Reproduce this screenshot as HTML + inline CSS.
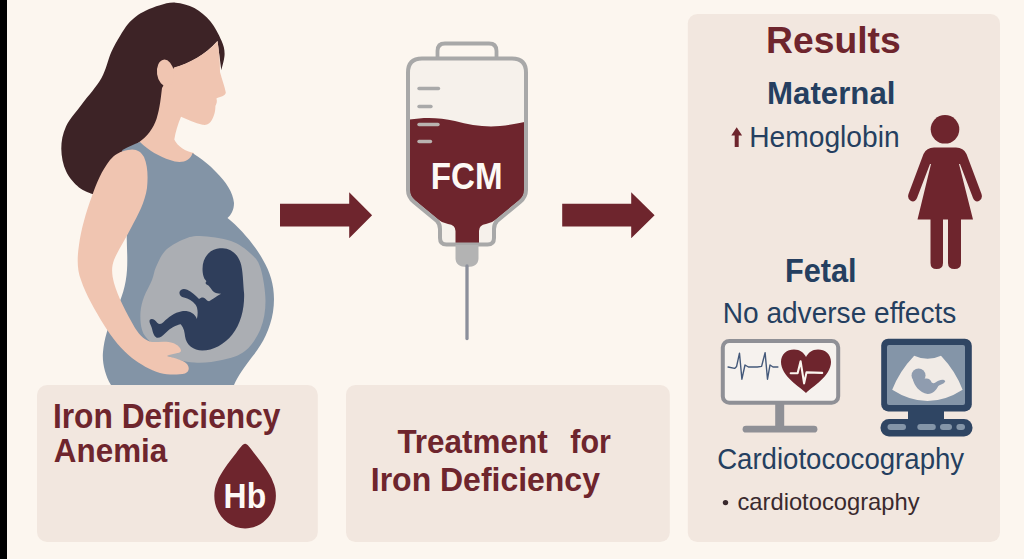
<!DOCTYPE html>
<html>
<head>
<meta charset="utf-8">
<title>FCM in pregnancy</title>
<style>
html,body{margin:0;padding:0;background:#fcf6ef;}
body{width:1024px;height:559px;overflow:hidden;font-family:"Liberation Sans",sans-serif;}
svg{display:block;}
text{font-family:"Liberation Sans",sans-serif;}
.b{font-weight:bold;}
.red{fill:#6e252d;}
.navy{fill:#253f60;}
</style>
</head>
<body>
<svg width="1024" height="559" viewBox="0 0 1024 559">
  <!-- background -->
  <rect x="0" y="0" width="1024" height="559" fill="#fcf6ef"/>
  <rect x="0" y="0" width="7" height="559" fill="#000"/>

  <!-- panels -->
  <rect x="37" y="385" width="280.800" height="157" rx="10" fill="#f2e7df"/>
  <rect x="346" y="385" width="323.800" height="157" rx="9.5" fill="#f2e7df"/>
  <rect x="687.800" y="14" width="312.200" height="528" rx="9.5" fill="#f2e7df"/>

  <!-- ============ WOMAN ============ -->
  <g id="woman">
    <!-- hair back -->
    <path fill="#3d2326" d="M221.3,70.3 C221.9,67.6 224.6,59.0 224.6,54.0 C224.6,49.0 223.7,45.7 221.3,40.3 C219.0,34.9 215.0,26.9 210.5,21.5 C206.0,16.1 200.2,11.1 194.4,8.0 C188.6,4.9 181.3,3.2 175.6,2.7 C169.9,2.2 164.9,3.9 160.0,5.2 C155.1,6.5 150.0,8.6 146.0,10.5 C142.0,12.4 139.0,14.2 136.0,16.5 C133.0,18.8 130.7,20.8 128.0,24.0 C125.3,27.2 122.8,31.3 120.0,36.0 C117.2,40.7 114.3,45.2 111.2,52.2 C108.1,59.2 106.3,69.3 101.5,77.9 C96.7,86.5 88.1,95.7 82.2,103.7 C76.3,111.8 69.6,118.7 66.1,126.2 C62.6,133.7 61.3,141.2 61.3,148.7 C61.3,156.2 63.1,164.9 66.1,171.3 C69.0,177.8 74.4,183.6 79.0,187.4 C83.6,191.2 91.1,193.2 93.5,194.3  C100,180 115,165 130,160 L150,146 L175,125 L180,90 L174,68 C190,63 205,55 217.5,41 Z"/>
    <!-- neck + face -->
    <path fill="#f0c5b1" d="M217.500,41 C219,50 220,60 220,72 C222,80 225,87 225.800,92.600 C225.500,96 220,97 216.400,98.500 C217.500,101 216.500,104 215.400,106 C215.500,112 213.500,118 210.500,122 C208.500,124.500 205.500,125.300 202.500,124.800 C195,123.500 188,119.500 181,116.800 C178,124 175.500,132 174.300,139.600 C177,146 186,152 194,153 L194,166 L160,166 L138,143 C147,137 153.500,128 156.500,119 C160,108 161,96 162,88 L174,67.500 C190,63 205,55 217.500,41 Z"/>
    <!-- ear -->
    <ellipse cx="165.500" cy="73" rx="8.500" ry="13.500" fill="#f0c5b1" transform="rotate(-8 165.500 73)"/>
    <!-- shirt -->
    <path fill="#8394a6" d="M140,142 C148,150 160,157 170,160 C180,164 190,162 192.500,153 C200,158 210,165 216,172 C226,182 233,192 234,203 C234,210 231,215 227.500,218 C240,228 255,245 263,260 C272,275 276,292 273,312 C270,330 262,345 252,357 C245,366 238,376 234,385 L111,385 C105,375 102,362 103,352 C104,340 108,325 115,312 C122,298 126,285 127,270 C128,255 126,240 127,225 C128,205 126,180 122,165 C121,158 121,153 122.500,150 C128,147 134,144 140,142 Z"/>
    <!-- womb -->
    <path id="womb" fill="#abaeb3" d="M200.0,236.0 C191.8,235.8 187.8,237.5 182.0,240.0 C176.2,242.5 169.3,246.5 165.0,251.0 C160.7,255.5 158.2,262.2 156.0,267.0 C153.8,271.8 154.0,275.0 152.0,280.0 C150.0,285.0 145.9,291.7 144.0,297.0 C142.1,302.3 140.9,306.7 140.5,312.0 C140.1,317.3 140.5,324.3 141.8,329.0 C143.1,333.7 144.3,335.6 148.5,340.0 C152.7,344.4 159.4,351.6 167.0,355.4 C174.6,359.1 185.0,361.7 194.2,362.5 C203.4,363.3 213.5,361.9 222.0,360.0 C230.5,358.1 238.6,356.2 245.0,351.0 C251.4,345.8 257.1,337.3 260.5,329.0 C263.9,320.7 265.5,311.2 265.5,301.0 C265.5,290.8 263.0,275.9 260.5,268.0 C258.0,260.1 255.4,258.0 250.5,253.5 C245.6,249.0 239.4,243.9 231.0,241.0 C222.6,238.1 208.2,236.2 200.0,236.0 Z"/>
    <!-- fetus -->
    <path id="fetus" fill="#2f3e5b" transform="translate(140,240) scale(0.21467)" d="M385,38 C420,38 455,65 468,105 C480,140 480,200 485,250 C487,320 470,390 430,440 C395,485 340,515 290,515 C250,515 215,490 210,450 C208,430 205,410 190,392 C170,395 140,410 120,432 C105,448 90,458 78,455 C65,450 60,430 55,410 C50,395 40,382 46,372 C55,362 70,372 80,385 C90,395 100,392 110,382 C130,362 160,338 195,332 C225,328 255,340 265,368 C272,340 268,310 258,300 C245,285 225,272 205,268 C190,266 180,252 185,240 C190,228 205,225 220,232 C240,242 258,258 275,275 C282,268 295,265 303,272 C310,278 315,285 322,285 C335,278 355,262 378,250 C360,250 345,245 337,235 C330,226 325,218 320,213 C312,208 303,204 306,198 C310,193 310,190 305,186 C298,180 294,165 292,150 C288,110 300,75 330,52 C348,40 368,38 385,38 Z"/>
    <!-- arm -->
    <path fill="#f0c5b1" d="M128,150 C135,148 141,151 144,157 C148,166 148,178 147,188 C145,202 138,215 131,228 C125,240 118,250 114,260 C111,268 112,275 114,283 C118,297 126,312 135,328 C140,336 146,341 152,342 C160,342 168,341 173,343 C178,345 181,348 181,351 C180,354 172,353 167,356 C174,358 183,360 187,364 C190,368 189,372 185,373.500 C178,375 168,375 160,373 C150,370 140,364 132,358 C122,350 112,338 104,325 C95,310 86,295 81,280 C77,270 77,258 79,245 C81,230 86,212 92,196 C96,184 102,170 110,160 C115,154 121,151 128,150 Z"/>
  </g>

  <!-- ============ ARROWS ============ -->
  <path class="red" d="M280,203.800 L349.200,203.800 L349.200,192.200 L372.100,215.200 L349.200,238.200 L349.200,226.600 L280,226.600 Z"/>
  <path class="red" d="M562.200,203.800 L631.200,203.800 L631.200,192.200 L654.600,215.200 L631.200,238.200 L631.200,226.600 L562.200,226.600 Z"/>

  <!-- ============ IV BAG ============ -->
  <g id="bag">
    <!-- hanger -->
    <path d="M437.500,58 L437.500,51 Q437.500,43.500 445,43.500 L489,43.500 Q496.500,43.500 496.500,51 L496.500,58" fill="none" stroke="#a8a8a8" stroke-width="3.800"/>
    <!-- body -->
    <path d="M422,58.500 L512,58.500 Q526,58.500 526,72.500 L526,190 Q526,197 520,202 L497,221 Q494,224 494,229 L494,238 Q494,244.500 487.500,244.500 L446.500,244.500 Q440,244.500 440,238 L440,229 Q440,224 437,221 L414,202 Q408,197 408,190 L408,72.500 Q408,58.500 422,58.500 Z" fill="#f6f1eb"/>
    <!-- liquid -->
    <path fill="#6e252d" d="M409.5,119.500 C425,117 440,117.500 455,121 C470,125 485,127.500 500,126 C510,125 518,123.500 524.5,122 L524.5,190 Q524.5,196 519,200.500 L496,219.500 Q492,223 486,224 Q479,225 479,231 L479,246 L455.5,246 L455.5,231 Q455.5,225 448,224 Q442,223 438,219.500 L415,200.500 Q409.5,196 409.5,190 Z"/>
    <!-- ticks -->
    <g stroke="#a9a9a9" stroke-width="3.4" stroke-linecap="round">
      <line x1="419" y1="88.500" x2="438.500" y2="88.500"/>
      <line x1="419" y1="106.500" x2="431" y2="106.500"/>
      <line x1="419" y1="124.500" x2="438" y2="124.500" stroke="#b9b3b0"/>
      <line x1="419" y1="141.500" x2="430.500" y2="141.500" stroke="#b9b3b0"/>
    </g>
    <path id="bagbody" d="M422,58.500 L512,58.500 Q526,58.500 526,72.500 L526,190 Q526,197 520,202 L497,221 Q494,224 494,229 L494,238 Q494,244.500 487.500,244.500 L446.500,244.500 Q440,244.500 440,238 L440,229 Q440,224 437,221 L414,202 Q408,197 408,190 L408,72.500 Q408,58.500 422,58.500 Z" fill="none" stroke="#a8a8a8" stroke-width="4"/>
    <!-- connector -->
    <path d="M455.500,245 L478.500,245 L478.500,258 Q478.500,267 467,267 Q455.500,267 455.500,258 Z" fill="#b3b3b3"/>
    <!-- needle -->
    <line x1="467" y1="266" x2="467" y2="338.500" stroke="#8b8f9b" stroke-width="3.300" stroke-linecap="round"/>
  </g>

  <!-- ============ LEFT PANEL TEXT ============ -->
  <!-- drop -->
  <path class="red" d="M245.100,443.800 C247.500,443.800 250,448 254,452.900 C258,458 262,463 264.800,467.200 C268.500,472.500 271.500,477.500 272.800,481.500 C275,486 275.900,491 275.900,495.800 C275.900,514 262,528.400 245.100,528.400 C228.200,528.400 214.300,514 214.300,495.800 C214.300,491 215.200,486 217.400,481.500 C218.700,477.500 221.700,472.500 225.400,467.200 C228.200,463 232.200,458 236.200,452.900 C240.200,448 242.700,443.800 245.100,443.800 Z"/>

  <!-- ============ MIDDLE PANEL TEXT ============ -->

  <!-- ============ RIGHT PANEL ============ -->
  <!-- up arrow -->
  <path class="red" d="M736.700,127.300 L742.100,135.400 L738.700,135.400 L738.700,147 L734.700,147 L734.700,135.400 L731.300,135.400 Z"/>
  <!-- woman icon -->
  <g class="red">
    <circle cx="945" cy="129.300" r="14.300"/>
    <path d="M934,147.500 L956,147.500 Q963.500,147.500 966.500,154 L981.500,194 Q983,199 979,201 Q975,202.500 973,198 L960,164 L959,164 L973,219.500 L961,219.500 L961,263 Q961,269 954.500,269 Q948,269 948,263 L948,219.500 L943,219.500 L943,263 Q943,269 936.500,269 Q930.500,269 930.500,263 L930.500,219.500 L917.500,219.500 L931,164 L930,164 L917,198 Q915,202.500 911,201 Q907,199 908.500,194 L923.500,154 Q926.500,147.500 934,147.500 Z"/>
  </g>

  <!-- monitor 1 -->
  <g id="mon1">
    <rect x="722.800" y="340.900" width="115.400" height="61.800" rx="6.500" fill="#f6f2ee" stroke="#8f9096" stroke-width="4"/>
    <rect x="775.200" y="404" width="9" height="23" fill="#8f9096"/>
    <rect x="742.600" y="425.800" width="74.800" height="6.800" rx="3.400" fill="#8f9096"/>
    <!-- ecg -->
    <polyline fill="none" stroke="#44597a" stroke-width="1.400" stroke-linejoin="round" stroke-linecap="round" points="728.100,367 734.600,368.400 736.600,366.400 739.500,353.200 741.900,379.200 745,365 748.400,367 757.300,367 761.600,366.400 765.100,352.600 767.500,379.200 770,365 773,367 777.900,367"/>
    <!-- heart -->
    <path class="red" d="M806,393 C800,387 781,376 781,362 C781,354 787,349.500 794,349.500 C800,349.500 804,353 806,357 C808,353 812,349.500 818,349.500 C825,349.500 831,354 831,362 C831,376 812,387 806,393 Z"/>
    <polyline fill="none" stroke="#fcf6ef" stroke-width="2.100" stroke-linejoin="round" stroke-linecap="round" points="790.700,373.300 797.600,373.300 800.600,361.300 804.100,383.400 806.500,372.400 822.200,372.900"/>
  </g>

  <!-- monitor 2 -->
  <g id="mon2">
    <rect x="881.200" y="338.700" width="90.600" height="72.700" rx="7" fill="#2f4563"/>
    <rect x="887" y="345" width="78" height="60" rx="2" fill="#8495a8"/>
    <rect x="908" y="409" width="36" height="13" fill="#2f4563"/>
    <rect x="880.500" y="419" width="92" height="17.500" rx="8.500" fill="#2f4563"/>
    <g fill="#8495a8">
      <rect x="887.500" y="424" width="18.500" height="6" rx="3"/>
      <rect x="917.300" y="424" width="18.500" height="6" rx="3"/>
      <rect x="940" y="424" width="12" height="6" rx="3"/>
      <rect x="956.400" y="424" width="8.600" height="6" rx="3"/>
    </g>
    <!-- ultrasound fan -->
    <path fill="#f1ebe6" d="M914.200,355.700 Q927.600,361.900 941,355.700 Q955.500,371 962.600,389.700 Q927.600,412.300 892.200,389.700 Q899.500,371 914.200,355.700 Z"/>
    <!-- tiny fetus -->
    <g fill="#8f9caf" transform="translate(870,330) scale(0.2057)"><circle cx="236" cy="221" r="34"/><path d="M208,240 C215,270 240,305 280,311 C305,312 322,292 332,272 C347,264 364,260 366,248 C356,237 335,244 320,254 C312,260 303,262 298,252 C294,242 286,234 270,236 Z"/></g>
  </g>
<!--TEXT-->
<text transform="translate(52.88,427.5) scale(0.9261,1)" font-weight="bold" font-size="34.3" fill="#6e252d">Iron Deficiency</text>
<text transform="translate(53.87,461.5) scale(0.9373,1)" font-weight="bold" font-size="33.5" fill="#6e252d">Anemia</text>
<text transform="translate(397.41,452.6) scale(0.9302,1)" font-weight="bold" font-size="33.8" fill="#6e252d">Treatment</text>
<text transform="translate(570.30,452.6) scale(0.9016,1)" font-weight="bold" font-size="33.8" fill="#6e252d">for</text>
<text transform="translate(370.79,490.8) scale(0.9749,1)" font-weight="bold" font-size="32.8" fill="#6e252d">Iron Deficiency</text>
<text transform="translate(766.08,52.6) scale(1.0154,1)" font-weight="bold" font-size="36.7" fill="#6e252d">Results</text>
<text transform="translate(767.06,103.8) scale(1.0139,1)" font-weight="bold" font-size="30.8" fill="#253f60">Maternal</text>
<text transform="translate(749.26,146.9) scale(0.9752,1)" font-weight="normal" font-size="28.9" fill="#253f60">Hemoglobin</text>
<text transform="translate(784.97,282.4) scale(0.9308,1)" font-weight="bold" font-size="33.0" fill="#253f60">Fetal</text>
<text transform="translate(722.69,322.7) scale(0.9588,1)" font-weight="normal" font-size="29.3" fill="#253f60">No adverse effects</text>
<text transform="translate(717.15,468.5) scale(0.9525,1)" font-weight="normal" font-size="29.0" fill="#253f60">Cardiotococography</text>
<text transform="translate(737.49,509.8) scale(1.0061,1)" font-weight="normal" font-size="23.6" fill="#3a2a2e">cardiotocography</text>
<text transform="translate(430.78,189.0) scale(0.9156,1)" font-weight="bold" font-size="36.2" fill="#fdf9f5">FCM</text>
<text transform="translate(223.61,508.2) scale(0.8990,1)" font-weight="bold" font-size="35.5" fill="#fdf9f5">Hb</text>
<circle cx="725.5" cy="502.6" r="2.7" fill="#3a2a2e"/>
<!--/TEXT-->
</svg>
</body>
</html>
